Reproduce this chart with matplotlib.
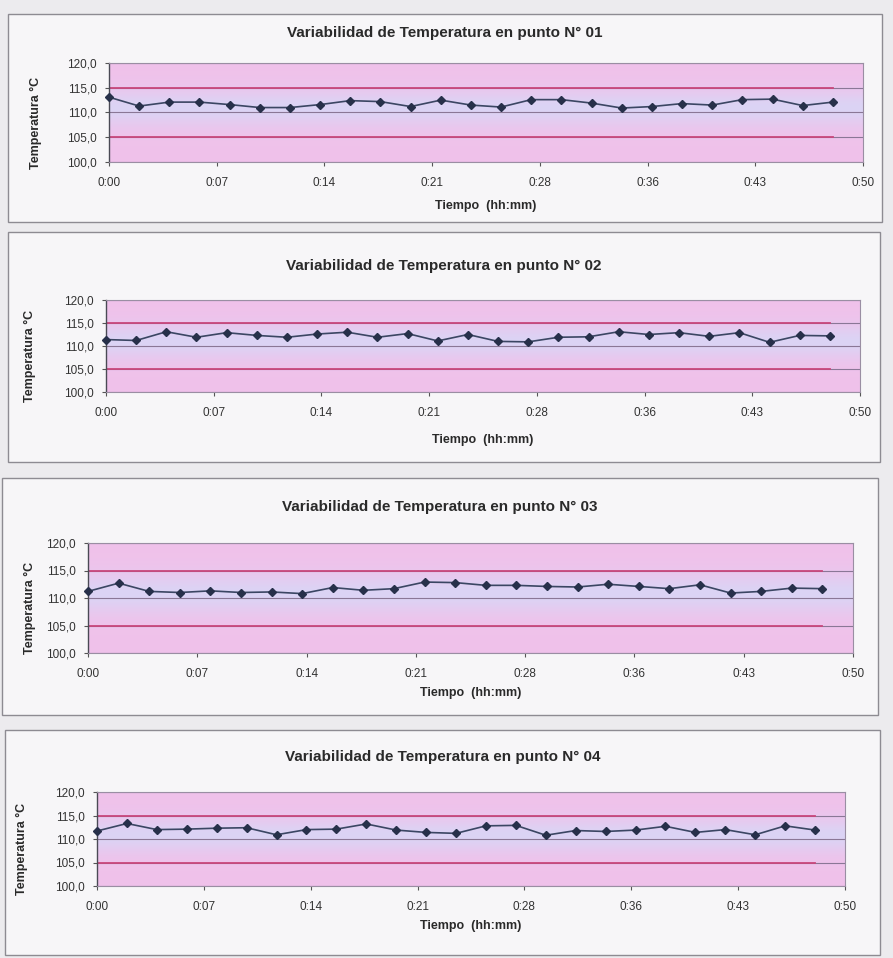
import numpy as np
import matplotlib
matplotlib.use("Agg")
import matplotlib.pyplot as plt
from matplotlib.patches import Rectangle
from matplotlib.colors import LinearSegmentedColormap

plt.rcParams['font.family'] = ['Liberation Sans', 'DejaVu Sans']

# Sampling times (minutes from start)
minutes = [0, 2, 4, 6, 8, 10, 12, 14, 16, 18, 20, 22, 24,
           26, 28, 30, 32, 34, 36, 38, 40, 42, 44, 46, 48]

# Temperature readings (°C) at each measuring point
temp_p01 = [113.1, 111.3, 112.1, 112.1, 111.6, 111.0, 111.0, 111.6, 112.4, 112.2, 111.2, 112.5, 111.5,
            111.1, 112.6, 112.6, 111.9, 110.9, 111.2, 111.8, 111.5, 112.6, 112.7, 111.4, 112.1]
temp_p02 = [111.4, 111.2, 113.1, 111.9, 112.9, 112.3, 111.9, 112.6, 113.0, 111.9, 112.7, 111.1, 112.5,
            111.0, 110.9, 111.9, 112.0, 113.1, 112.5, 112.9, 112.1, 112.9, 110.8, 112.3, 112.2]
temp_p03 = [111.2, 112.7, 111.2, 111.0, 111.3, 111.0, 111.1, 110.8, 111.9, 111.4, 111.7, 112.9, 112.8,
            112.3, 112.3, 112.1, 112.0, 112.5, 112.1, 111.7, 112.4, 110.9, 111.2, 111.8, 111.7]
temp_p04 = [111.7, 113.3, 112.0, 112.1, 112.3, 112.4, 110.9, 112.0, 112.1, 113.2, 111.9, 111.4, 111.2,
            112.8, 112.9, 110.8, 111.8, 111.6, 111.9, 112.7, 111.4, 112.0, 110.9, 112.8, 111.9]

series = [temp_p01, temp_p02, temp_p03, temp_p04]
point_ids = ["01", "02", "03", "04"]

# Control limits
upper_limit = 115.0
lower_limit = 105.0

# Axis ticks
y_ticks = [100, 105, 110, 115, 120]
y_tick_labels = ["100,0", "105,0", "110,0", "115,0", "120,0"]
x_tick_labels = ["0:00", "0:07", "0:14", "0:21", "0:28", "0:36", "0:43", "0:50"]
x_max = 50.0

W, H = 893, 958
fig = plt.figure(figsize=(W / 100, H / 100), dpi=100, facecolor='#ecebee')

def fx(px):
    return px / W

def fy(py):
    return 1 - py / H

# chart frames: (left, top, right, bottom) in pixels
frames = [(8, 14, 882, 222), (8, 232, 880, 462), (2, 478, 878, 715), (5, 730, 880, 955)]
# plot areas: (left, top, right, bottom)
plots = [(109, 63, 863, 162), (106, 300, 860, 392), (88, 543, 853, 653), (97, 792, 845, 886)]
title_y = [33, 266, 507, 757]
xlabel_y = [206, 440, 693, 926]
ylabel_x = [36, 30, 30, 22]

bg_cmap = LinearSegmentedColormap.from_list(
    "bg", [(0.94, 0.76, 0.92), (0.86, 0.83, 0.96)])
yy = np.linspace(100, 120, 200)
band = np.exp(-((yy - 110.8) / 3.6) ** 2)[:, None]

for i in range(4):
    fl, ft, fr, fb = frames[i]
    fig.patches.append(Rectangle((fx(fl), fy(fb)), fx(fr - fl), (fb - ft) / H,
                                 transform=fig.transFigure, facecolor='#f7f6f8',
                                 edgecolor='#8d8b92', lw=1.0, zorder=-10))
    l, t, r, b = plots[i]
    ax = fig.add_axes([fx(l), fy(b), fx(r - l), (b - t) / H])
    ax.set_zorder(5)
    ax.imshow(band, extent=[0, x_max, 100, 120], origin='lower', aspect='auto',
              cmap=bg_cmap, vmin=0, vmax=1, zorder=0)
    ax.set_xlim(0, x_max)
    ax.set_ylim(100, 120)
    for yv in y_ticks:
        ax.axhline(yv, color='#8a7796', lw=0.8, zorder=1)
    ax.plot([minutes[0], minutes[-1]], [upper_limit, upper_limit], color='#c9477c', lw=1.3, zorder=2)
    ax.plot([minutes[0], minutes[-1]], [lower_limit, lower_limit], color='#c9477c', lw=1.3, zorder=2)
    ax.plot(minutes, series[i], color='#3b4663', lw=1.2, marker='D', markersize=4.5,
            markerfacecolor='#27304a', markeredgecolor='#27304a', zorder=3, clip_on=False)

    ax.set_yticks(y_ticks)
    ax.set_yticklabels(y_tick_labels, fontsize=8.5, color='#333333')
    ax.set_xticks(np.linspace(0, x_max, 8))
    ax.set_xticklabels(x_tick_labels, fontsize=8.5, color='#333333')
    ax.tick_params(axis='both', length=3, width=0.8, colors='#555555', labelcolor='#333333')
    ax.tick_params(axis='x', pad=8)
    ax.tick_params(axis='y', pad=6)
    for side in ['top', 'right', 'bottom']:
        ax.spines[side].set_color('#9a8ea3')
        ax.spines[side].set_linewidth(0.8)
    ax.spines['left'].set_color('#4a4a55')
    ax.spines['left'].set_linewidth(1.0)

    cx = (fl + fr) / 2
    fig.text(fx(cx), fy(title_y[i]), f"Variabilidad de Temperatura en punto N° {point_ids[i]}",
             ha='center', va='center', fontsize=11, fontweight='bold', color='#2a2a2a')
    fig.text(fx((l + r) / 2), fy(xlabel_y[i]), "Tiempo  (hh:mm)",
             ha='center', va='center', fontsize=9, fontweight='bold', color='#2a2a2a')
    fig.text(fx(ylabel_x[i]), fy((t + b) / 2 + 10), "Temperatura °C", rotation=90,
             ha='center', va='center', fontsize=9, fontweight='bold', color='#2a2a2a')

fig.savefig("out.png", dpi=100, facecolor=fig.get_facecolor())
